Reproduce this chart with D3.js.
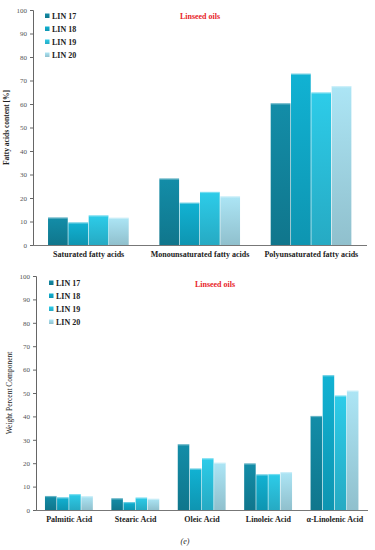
<!DOCTYPE html>
<html>
<head>
<meta charset="utf-8">
<script src="https://cdn.jsdelivr.net/npm/d3@7"></script>
<style>
  body { margin: 0; background: #fff; }
  svg text { font-family: "Liberation Serif", "DejaVu Serif", serif !important; }
</style>
</head>
<body>
<svg id="chart" width="375" height="550"></svg>
<script>
const series = ['LIN 17', 'LIN 18', 'LIN 19', 'LIN 20'];
const colors = ['#12869f', '#10a9c8', '#2bc1dd', '#a3d9e8'];
const yTicks = [0, 10, 20, 30, 40, 50, 60, 70, 80, 90, 100];

// chart (top): fatty acid classes
const classCategories = ['Saturated fatty acids', 'Monounsaturated fatty acids', 'Polyunsaturated fatty acids'];
const classLin17 = [11.7, 28.3, 60.3];
const classLin18 = [9.6, 18.0, 72.9];
const classLin19 = [12.6, 22.6, 64.9];
const classLin20 = [11.6, 20.7, 67.6];

// chart (bottom): individual acids
const acidCategories = ['Palmitic Acid', 'Stearic Acid', 'Oleic Acid', 'Linoleic Acid', '\u03b1-Linolenic Acid'];
const acidLin17 = [6.0, 5.0, 28.1, 19.9, 40.2];
const acidLin18 = [5.4, 3.4, 17.7, 15.2, 57.6];
const acidLin19 = [6.8, 5.3, 22.1, 15.4, 48.9];
const acidLin20 = [5.9, 4.8, 20.2, 16.2, 51.0];

const svg = d3.select('#chart');

// gradients so bars look a bit shaded like the original
const defs = svg.append('defs');
colors.forEach((c, i) => {
  const g = defs.append('linearGradient')
    .attr('id', 'grad' + i)
    .attr('x1', 0).attr('y1', 0).attr('x2', 0).attr('y2', 1);
  g.append('stop').attr('offset', '0%').attr('stop-color', d3.color(c).brighter(0.15));
  g.append('stop').attr('offset', '100%').attr('stop-color', d3.color(c).darker(0.35));
});

function drawChart(opts) {
  const { categories, values, left, right, top, bottom, yLabel, yLabelBold,
          legendX, legendY, titleX, titleY } = opts;

  const x = d3.scaleBand()
    .domain(categories)
    .range([left, right])
    .paddingInner(0.27)
    .paddingOuter(0.135);

  const xs = d3.scaleBand()
    .domain(series)
    .range([0, x.bandwidth()]);

  const y = d3.scaleLinear().domain([0, 100]).range([bottom, top]);

  const g = svg.append('g');

  // bars
  series.forEach((s, si) => {
    const rows = categories.map((c, ci) => ({ c, v: values[si][ci] }));
    g.selectAll(null)
      .data(rows)
      .enter()
      .append('rect')
      .attr('x', d => x(d.c) + xs(s))
      .attr('y', d => y(d.v))
      .attr('width', xs.bandwidth() - 0.6)
      .attr('height', d => y(0) - y(d.v))
      .attr('fill', `url(#grad${si})`);

    g.selectAll(null)
      .data(rows)
      .enter()
      .append('rect')
      .attr('x', d => x(d.c) + xs(s))
      .attr('y', d => y(d.v))
      .attr('width', xs.bandwidth() - 0.6)
      .attr('height', 1.2)
      .attr('fill', '#fff')
      .attr('opacity', 0.35);
  });

  // y axis
  const yAxis = g.append('g')
    .attr('transform', `translate(${left},0)`)
    .call(d3.axisLeft(y).tickValues(yTicks).tickSize(3).tickPadding(3));
  yAxis.attr('font-family', null);
  yAxis.select('.domain').attr('stroke', '#666');
  yAxis.selectAll('.tick line').attr('stroke', '#666');
  yAxis.selectAll('.tick text')
    .attr('fill', '#555')
    .style('font-size', '7px');

  // x axis
  const xAxis = g.append('g')
    .attr('transform', `translate(0,${bottom})`)
    .call(d3.axisBottom(x).tickSize(0).tickPadding(6));
  xAxis.attr('font-family', null);
  xAxis.select('.domain').attr('stroke', '#777').attr('d', `M${left},0.5H${right}`);
  xAxis.selectAll('.tick text')
    .attr('fill', '#222')
    .style('font-size', '8px')
    .style('font-weight', 'bold');

  // y label
  g.append('text')
    .attr('transform', `translate(${opts.yLabelX},${(top + bottom) / 2}) rotate(-90)`)
    .attr('text-anchor', 'middle')
    .attr('fill', '#222')
    .style('font-size', '7.5px')
    .style('font-weight', yLabelBold ? 'bold' : 'normal')
    .text(yLabel);

  // legend
  const lg = g.append('g').attr('transform', `translate(${legendX},${legendY})`);
  series.forEach((s, i) => {
    const row = lg.append('g').attr('transform', `translate(0,${i * 13})`);
    row.append('rect')
      .attr('x', 0).attr('y', -2.5)
      .attr('width', 4.5).attr('height', 4.5)
      .attr('fill', `url(#grad${i})`);
    row.append('text')
      .attr('x', 7).attr('y', 0)
      .attr('dy', '0.32em')
      .attr('fill', '#222')
      .style('font-size', '8px')
      .style('font-weight', 'bold')
      .text(s);
  });

  // title
  g.append('text')
    .attr('x', titleX).attr('y', titleY)
    .attr('dy', '0.32em')
    .attr('text-anchor', 'middle')
    .attr('fill', '#e8262b')
    .style('font-size', '8px')
    .style('font-weight', 'bold')
    .text('Linseed oils');
}

drawChart({
  categories: classCategories,
  values: [classLin17, classLin18, classLin19, classLin20],
  left: 33, right: 367, top: 10, bottom: 245,
  yLabel: 'Fatty acids content [%]', yLabelBold: true, yLabelX: 9,
  legendX: 45, legendY: 16, titleX: 200, titleY: 16
});

drawChart({
  categories: acidCategories,
  values: [acidLin17, acidLin18, acidLin19, acidLin20],
  left: 36, right: 368, top: 276, bottom: 510,
  yLabel: 'Weight Percent Component', yLabelBold: false, yLabelX: 12,
  legendX: 49, legendY: 283, titleX: 215, titleY: 284
});

svg.append('text')
  .attr('x', 185).attr('y', 541)
  .attr('dy', '0.32em')
  .attr('text-anchor', 'middle')
  .attr('fill', '#222')
  .style('font-size', '8px')
  .style('font-style', 'italic')
  .text('(e)');
</script>
</body>
</html>
